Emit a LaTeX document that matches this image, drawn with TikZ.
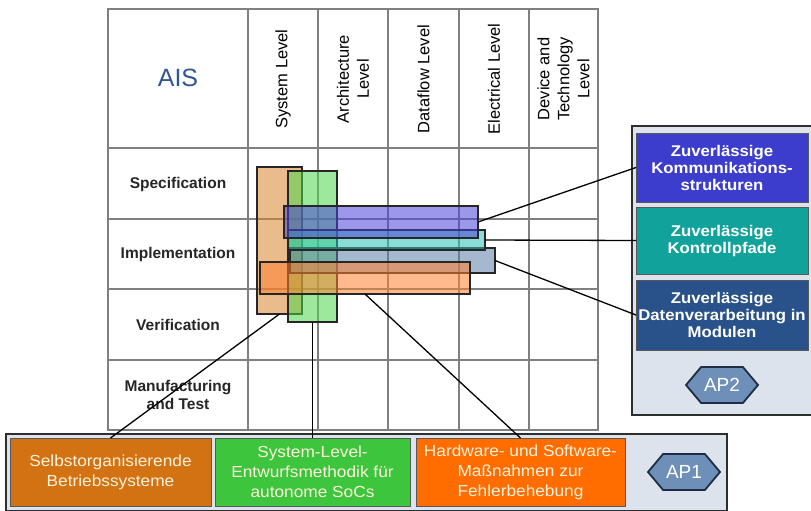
\documentclass[tikz,border=0pt]{standalone}
\usepackage{fontspec}
\setmainfont{Liberation Sans}
\newfontfamily\widesans[FakeStretch=1.08]{Liberation Sans}
\usetikzlibrary{shapes.symbols}

\definecolor{gridgray}{HTML}{808080}
\definecolor{panelfill}{HTML}{DCE3EC}
\definecolor{paneledge}{HTML}{2E2E2E}
\definecolor{kommblue}{HTML}{3C3DCC}
\definecolor{kontteal}{HTML}{11A39B}
\definecolor{datblue}{HTML}{285289}
\definecolor{osorange}{HTML}{D27212}
\definecolor{slgreen}{HTML}{3DC53D}
\definecolor{hworange}{HTML}{FF6D00}
\definecolor{hexfill}{HTML}{6D8FB8}
\definecolor{hexedge}{HTML}{1E2D44}
\definecolor{aisblue}{HTML}{2F5597}
\definecolor{bartan}{HTML}{D9842D}
\definecolor{bargreen}{HTML}{4CD64C}
\definecolor{barblue}{HTML}{4A42D8}
\definecolor{barteal}{HTML}{2EC2B4}
\definecolor{barsteel}{HTML}{5A7FA6}
\definecolor{barorange}{HTML}{FF8030}
\definecolor{paletext}{HTML}{FFF2DC}

\tikzset{
  gridline/.style={draw=gridgray, line width=1.3pt},
  blockbox/.style={rectangle, anchor=north west, inner sep=0pt, outer sep=0pt},
  bar/.style={blockbox, draw=black!85, line width=1.4pt, fill opacity=0.55},
  panelbox/.style={blockbox, draw=paneledge, line width=1.6pt, fill=panelfill},
  apbox/.style={blockbox, draw=paneledge!80, line width=1pt, text=white,
    align=center, font=\widesans\bfseries\fontsize{15.5}{17}\selectfont},
  wpbox/.style={blockbox, draw=paneledge!80, line width=1pt, text=paletext,
    align=center, font=\widesans\fontsize{16}{20}\selectfont},
  rowlabel/.style={align=center, text=black!85, font=\bfseries\fontsize{15.5}{18}\selectfont},
  collabel/.style={align=center, rotate=90, font=\fontsize{16.5}{20}\selectfont},
  hexagon/.style={signal, signal to=west and east, signal pointer angle=100,
    draw=hexedge, line width=1.8pt, fill=hexfill, text=white, inner sep=0pt,
    minimum width=72pt, minimum height=36pt, font=\fontsize{19}{19}\selectfont},
  link/.style={draw=black, line width=1.3pt},
}

\begin{document}
\begin{tikzpicture}[x=1pt, y=-1pt]
\clip (0,0) rectangle (811,511);
\useasboundingbox (0,0) rectangle (811,511);
\fill[white] (0,0) rectangle (811,511);

% table grid
\draw[gridline] (108,9) rectangle (598,430);
\foreach \yy in {148,219,289,360} \draw[gridline] (108,\yy) -- (598,\yy);
\foreach \xx in {248,318,388,459,529} \draw[gridline] (\xx,9) -- (\xx,430);

% header
\node[text=aisblue, font=\fontsize{25}{25}\selectfont] (ais) at (178,78) {AIS};
\node[collabel] (sys)  at (283,79) {System Level};
\node[collabel] (arch) at (353,79) {Architecture\\Level};
\node[collabel] (flow) at (423.5,79) {Dataflow Level};
\node[collabel] (elec) at (494,79) {Electrical Level};
\node[collabel] (dev)  at (563.5,79) {Device and\\Technology\\Level};

% row labels
\node[rowlabel] (spec) at (178,184) {Specification};
\node[rowlabel] (impl) at (178,254) {Implementation};
\node[rowlabel] (veri) at (178,325) {Verification};
\node[rowlabel] (manu) at (178,395) {Manufacturing\\and Test};

% coverage bars
\node[bar, fill=bartan,    minimum width=45pt,  minimum height=147pt] (btan)    at (257,167) {};
\node[bar, fill=bargreen,  minimum width=49pt,  minimum height=151pt] (bgreen)  at (288,171) {};
\node[bar, fill=barsteel,  minimum width=205pt, minimum height=25pt]  (bsteel)  at (290,248) {};
\node[bar, fill=barteal,   minimum width=197pt, minimum height=20pt]  (bteal)   at (288,230) {};
\node[bar, fill=barblue,   minimum width=194pt, minimum height=32pt]  (bblue)   at (284,206) {};
\node[bar, fill=barorange, minimum width=210pt, minimum height=32pt]  (borange) at (260,262) {};

% AP2 panel
\node[panelbox, minimum width=180pt, minimum height=289pt] (ap2panel) at (632,126) {};
\node[apbox, fill=kommblue, minimum width=172pt, minimum height=69pt] (komm) at (636,133)
  {Zuverlässige\\Kommunikations-\\strukturen};
\node[apbox, fill=kontteal, minimum width=172pt, minimum height=67pt] (kont) at (636,207)
  {Zuverlässige\\Kontrollpfade};
\node[apbox, fill=datblue, minimum width=172pt, minimum height=70pt] (dat) at (636,280)
  {Zuverlässige\\Datenverarbeitung in\\Modulen};
\node[hexagon] (ap2) at (722,385) {AP2};

% AP1 panel
\node[panelbox, minimum width=721pt, minimum height=77pt] (ap1panel) at (6,434) {};
\node[wpbox, fill=osorange, minimum width=201pt, minimum height=68pt] (os) at (10,438)
  {Selbstorganisierende\\Betriebssysteme};
\node[wpbox, fill=slgreen, minimum width=195pt, minimum height=68pt] (sl) at (215,438)
  {System-Level-\\Entwurfsmethodik für\\autonome SoCs};
\node[wpbox, fill=hworange, minimum width=209pt, minimum height=68pt] (hw) at (416,438)
  {Hardware- und Software-\\Maßnahmen zur\\Fehlerbehebung};
\node[hexagon] (ap1) at (684,472) {AP1};

% connectors
\draw[link] (bblue.east) -- (komm.west);
\draw[link] (bteal.east) -- (kont.west);
\draw[link] (bsteel.east) -- (dat.west);
\draw[link] (btan.south) -- (os.north);
\draw[link] (bgreen.south) -- (sl.north);
\draw[link] (borange.south) -- (hw.north);
\end{tikzpicture}
\end{document}
